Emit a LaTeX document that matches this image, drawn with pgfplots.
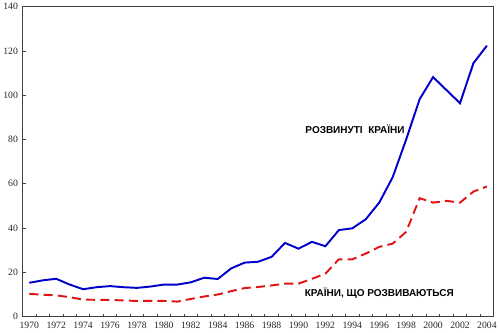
\documentclass[border=0pt]{standalone}
\usepackage{fontspec}
\setmainfont{Liberation Serif}
\newfontfamily\labfont{Liberation Sans}
\usepackage{pgfplots}
\pgfplotsset{compat=1.18}
\begin{document}
\begin{tikzpicture}
\begin{axis}[
  scale only axis,
  width=462pt, height=304pt,
  xmin=1969.5, xmax=2004.5, ymin=0, ymax=140,
  xtick={1970,1972,...,2004},
  minor xtick={1970.5,1971.5,...,2003.5},
  ytick={0,20,...,140},
  major x tick style={draw=none},
  tick align=inside,
  xtick pos=bottom, ytick pos=left,
  major tick length=3pt, minor tick length=3pt,
  axis line style={draw=black!75, line width=0.9pt},
  every tick/.style={black!75, line width=0.7pt},
  /pgf/number format/1000 sep={},
  /pgf/number format/assume math mode=true,
  tick label style={font=\fontsize{9.5}{11}\selectfont, text=black!85},
  xticklabel style={yshift=-2pt},
  yticklabel style={xshift=-1pt},
  clip=false,
]
\addplot[color={rgb,255:red,0;green,0;blue,205}, line width=1.9pt] coordinates {
(1970,15.3)(1971,16.4)(1972,17.1)(1973,14.5)(1974,12.4)(1975,13.3)(1976,13.8)
(1977,13.3)(1978,13.0)(1979,13.6)(1980,14.5)(1981,14.5)(1982,15.5)(1983,17.6)
(1984,17.0)(1985,21.8)(1986,24.4)(1987,24.8)(1988,27.0)(1989,33.3)(1990,30.7)
(1991,33.8)(1992,31.8)(1993,39.1)(1994,39.9)(1995,44.0)(1996,51.5)(1997,63.0)
(1998,80.0)(1999,98.2)(2000,108.2)(2001,102.3)(2002,96.4)(2003,114.5)(2004,122.4)
};
\addplot[color={rgb,255:red,225;green,20;blue,20}, line width=1.9pt, dash pattern=on 9pt off 5pt] coordinates {
(1970,10.3)(1971,9.9)(1972,9.6)(1973,8.8)(1974,7.7)(1975,7.6)(1976,7.6)
(1977,7.3)(1978,7.1)(1979,7.1)(1980,7.1)(1981,6.8)(1982,8.0)(1983,9.1)
(1984,10.0)(1985,11.5)(1986,12.9)(1987,13.4)(1988,14.1)(1989,14.9)(1990,14.9)
(1991,17.1)(1992,19.4)(1993,25.9)(1994,25.9)(1995,28.5)(1996,31.5)(1997,33.0)
(1998,38.3)(1999,53.5)(2000,51.5)(2001,52.3)(2002,51.5)(2003,56.5)(2004,58.8)
};
\node[font=\labfont\bfseries\fontsize{9.8}{11}\selectfont] at (axis cs:1994.2,84.4) {РОЗВИНУТІ\ \ КРАЇНИ};
\node[font=\labfont\bfseries\fontsize{9.8}{11}\selectfont] at (axis cs:1996.0,10.6) {КРАЇНИ, ЩО РОЗВИВАЮТЬСЯ};
\end{axis}
\end{tikzpicture}
\end{document}
